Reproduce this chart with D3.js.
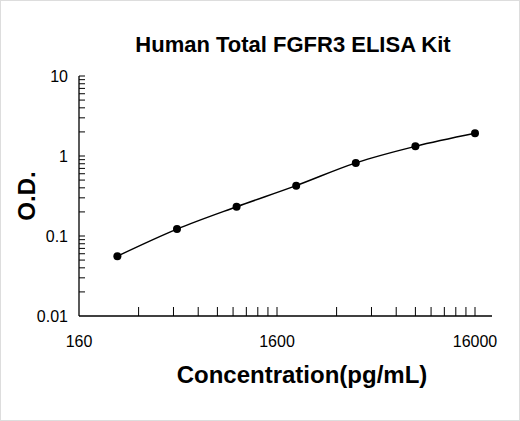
<!DOCTYPE html><html><head><meta charset="utf-8"><script src="https://cdn.jsdelivr.net/npm/d3@7"></script>
<style>body{margin:0;background:#fff}text{font-family:"Liberation Sans",Arial,sans-serif}</style></head><body><svg id="c" width="520" height="421"></svg>
<script>
const concentrations=[250,500,1000,2000,4000,8000,16000];
const od=[0.056,0.122,0.232,0.426,0.82,1.32,1.92];
const xTickLabels=[160,1600,16000];
const yTickLabels=[0.01,0.1,1,10];
const svg=d3.select("#c");
svg.append("rect").attr("x",0.5).attr("y",0.5).attr("width",519).attr("height",420).attr("fill","none").attr("stroke","#ddd");
const x=d3.scaleLog().domain([160,16000]).range([79,475]);
const y=d3.scaleLog().domain([0.01,10]).range([316,76]);
const g=svg.append("g");
g.append("line").attr("x1",79).attr("x2",492).attr("y1",316).attr("y2",316).attr("stroke","#000").attr("stroke-width",1.3);
g.append("line").attr("x1",79).attr("x2",79).attr("y1",76).attr("y2",316).attr("stroke","#000").attr("stroke-width",1.3);
const xt=[];for(const d of [160,1600])for(let k=2;k<=10;k++)xt.push(d*k);
g.selectAll(".xt").data(xt).join("line").attr("x1",d=>x(d)).attr("x2",d=>x(d)).attr("y1",316).attr("y2",307).attr("stroke","#000");
const yt=[];for(const d of [0.01,0.1,1])for(let k=2;k<=10;k++)yt.push(d*k);
g.selectAll(".yt").data(yt).join("line").attr("x1",79).attr("x2",85).attr("y1",d=>y(d)).attr("y2",d=>y(d)).attr("stroke","#000");
g.selectAll(".xl").data(xTickLabels).join("text").attr("x",d=>x(d)).attr("y",347).attr("text-anchor","middle").attr("font-size",16).text(d=>d);
g.selectAll(".yl").data(yTickLabels).join("text").attr("x",68).attr("y",d=>y(d)+6).attr("text-anchor","end").attr("font-size",16).text(d=>d);
const pts=concentrations.map((c,i)=>[c,od[i]]);
g.append("path").datum(pts).attr("d",d3.line().x(d=>x(d[0])).y(d=>y(d[1])).curve(d3.curveCatmullRom)).attr("fill","none").attr("stroke","#000").attr("stroke-width",1.5);
g.selectAll(".p").data(pts).join("circle").attr("cx",d=>x(d[0])).attr("cy",d=>y(d[1])).attr("r",4).attr("fill","#000");
svg.append("text").attr("x",293).attr("y",52).attr("text-anchor","middle").attr("font-size",22).attr("font-weight","bold").text("Human Total FGFR3 ELISA Kit");
svg.append("text").attr("x",302).attr("y",383).attr("text-anchor","middle").attr("font-size",24).attr("font-weight","bold").text("Concentration(pg/mL)");
svg.append("text").attr("transform","translate(35,196) rotate(-90)").attr("text-anchor","middle").attr("font-size",24).attr("font-weight","bold").text("O.D.");
</script></body></html>
